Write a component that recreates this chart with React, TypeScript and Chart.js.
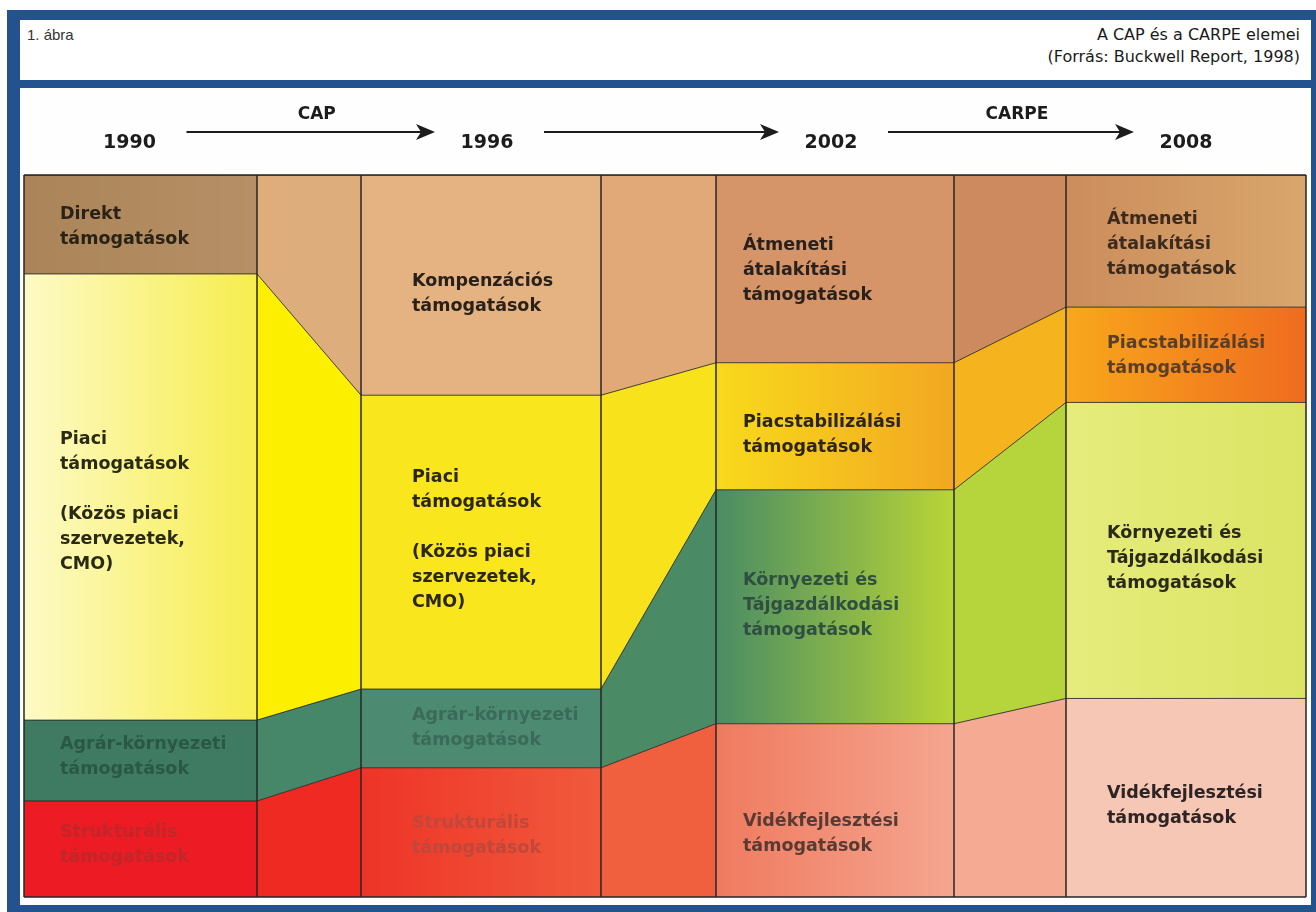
import React, { useEffect, useRef } from 'react';
import { Chart, registerables } from 'chart.js';

Chart.register(...registerables);

// ---------- data ----------
const YEARS = ['1990', '1996', '2002', '2008'];
const ARROW_LABELS = ['CAP', '', 'CARPE'];

// share of each band in every year (% of the column height), top band first
const TOP_BAND = [13.7, 30.5, 26.0, 18.3];
const MARKET_BAND = [61.8, 40.7, 17.6, 13.2];
const ENV_BAND = [11.2, 10.9, 32.4, 41.0];
const RURAL_BAND = [13.3, 17.9, 24.0, 27.5];

const TOP_LABELS = [
  'Direkt\ntámogatások',
  'Kompenzációs\ntámogatások',
  'Átmeneti\nátalakítási\ntámogatások',
  'Átmeneti\nátalakítási\ntámogatások',
];
const MARKET_LABELS = [
  'Piaci\ntámogatások\n\n(Közös piaci\nszervezetek,\nCMO)',
  'Piaci\ntámogatások\n\n(Közös piaci\nszervezetek,\nCMO)',
  'Piacstabilizálási\ntámogatások',
  'Piacstabilizálási\ntámogatások',
];
const ENV_LABELS = [
  'Agrár-környezeti\ntámogatások',
  'Agrár-környezeti\ntámogatások',
  'Környezeti és\nTájgazdálkodási\ntámogatások',
  'Környezeti és\nTájgazdálkodási\ntámogatások',
];
const RURAL_LABELS = [
  'Strukturális\ntámogatások',
  'Strukturális\ntámogatások',
  'Vidékfejlesztési\ntámogatások',
  'Vidékfejlesztési\ntámogatások',
];

// ---------- layout / style ----------
const SEGMENT_WIDTHS = [233, 104, 240, 115, 238, 112, 240]; // column, transition, column, ...
const LABEL_INDENT = [36, 51, 27, 41];
const YEAR_SHIFT = [-11, 6, -4, 0];
const LABEL_Y = {
  top: [94.5, 85.3, 90.3, 93.9],
  market: [63.4, 58.1, 65.7, 76.7],
  env: [21.1, 25.2, 43.9, 50.4],
  rural: [8.9, 10.2, 10.4, 14.4],
};

type Fill = string | [string, string];
const TOP_COLORS: Fill[] = [['#ab8559', '#b68f66'], '#ddae7c', '#e5b381', '#e1a878', '#d59568', '#cd8a5e', ['#cb8d5c', '#d9a66c']];
const MARKET_COLORS: Fill[] = [['#fdfac6', '#f6ed4e'], '#fcf000', '#f9e61c', '#f8e21b', ['#f8da1c', '#f2a722'], '#f5b31e', ['#f8a81c', '#ef6b1f']];
const ENV_COLORS: Fill[] = ['#3e7b62', '#468669', '#4c8a72', '#4a8b66', ['#4a8c64', '#b9d536'], '#b6d53c', ['#e6ec7c', '#dbe463']];
const RURAL_COLORS: Fill[] = ['#ed1c24', '#ee2a22', ['#ee3427', '#f05a3c'], '#f0603e', ['#ef7b5f', '#f5a590'], '#f4aa93', '#f5c7b4'];

const TOP_TEXT = ['#2a2217', '#2a211a', '#2a211c', '#3b2a1e'];
const MARKET_TEXT = ['#2a2a12', '#2b2712', '#2d2618', '#5a3f28'];
const ENV_TEXT = ['#2b5846', '#3b6b58', '#2f5040', '#2a2a18'];
const RURAL_TEXT = ['#c0262a', '#c0483a', '#5a3b33', '#2e2424'];

const LABEL_FONT = 'bold 17.5px "DejaVu Sans", sans-serif';
const LINE_H = 25;

const EDGES: number[] = SEGMENT_WIDTHS.reduce((acc: number[], w) => {
  acc.push(acc[acc.length - 1] + w);
  return acc;
}, [0]);

export default function App() {
  const canvasRef = useRef<HTMLCanvasElement | null>(null);

  useEffect(() => {
    const canvas = canvasRef.current;
    if (!canvas) return;
    const g2d = canvas.getContext('2d') as CanvasRenderingContext2D;

    const pts = (vals: number[]) =>
      vals.flatMap((v, i) => [
        { x: EDGES[2 * i], y: v },
        { x: EDGES[2 * i + 1], y: v },
      ]);

    const b0 = RURAL_BAND.map((v) => v);
    const b1 = b0.map((v, i) => v + ENV_BAND[i]);
    const b2 = b1.map((v, i) => v + MARKET_BAND[i]);
    const b3 = b2.map((v, i) => v + TOP_BAND[i]);

    const segBg = (colors: Fill[]) => (ctx: any) => {
      const spec = colors[ctx.p0DataIndex];
      if (typeof spec === 'string') return spec;
      const gr = g2d.createLinearGradient(ctx.p0.x, 0, ctx.p1.x, 0);
      gr.addColorStop(0, spec[0]);
      gr.addColorStop(1, spec[1]);
      return gr;
    };

    const mk = (label: string, vals: number[], fill: any, colors: Fill[]) => ({
      label,
      data: pts(vals),
      fill,
      backgroundColor: typeof colors[0] === 'string' ? colors[0] : colors[0][0],
      borderColor: 'rgba(35,35,35,0.85)',
      borderWidth: 1,
      pointRadius: 0,
      tension: 0,
      segment: { backgroundColor: segBg(colors) },
    });

    const bandLabels = [
      { texts: TOP_LABELS, ys: LABEL_Y.top, colors: TOP_TEXT },
      { texts: MARKET_LABELS, ys: LABEL_Y.market, colors: MARKET_TEXT },
      { texts: ENV_LABELS, ys: LABEL_Y.env, colors: ENV_TEXT },
      { texts: RURAL_LABELS, ys: LABEL_Y.rural, colors: RURAL_TEXT },
    ];

    const decorations = {
      id: 'decorations',
      afterDatasetsDraw(chart: any) {
        const { ctx, chartArea: a, scales } = chart;
        const xs = scales.x;
        const ys = scales.y;
        ctx.save();
        // frame + column edges
        ctx.strokeStyle = '#262626';
        ctx.lineWidth = 1.5;
        EDGES.forEach((e) => {
          const px = xs.getPixelForValue(e);
          ctx.beginPath();
          ctx.moveTo(px, a.top);
          ctx.lineTo(px, a.bottom);
          ctx.stroke();
        });
        ctx.beginPath();
        ctx.moveTo(a.left, a.top);
        ctx.lineTo(a.right, a.top);
        ctx.moveTo(a.left, a.bottom);
        ctx.lineTo(a.right, a.bottom);
        ctx.stroke();

        // band labels
        ctx.font = LABEL_FONT;
        ctx.textAlign = 'left';
        ctx.textBaseline = 'middle';
        bandLabels.forEach((band) => {
          band.texts.forEach((t, i) => {
            const x0 = xs.getPixelForValue(EDGES[2 * i]) + LABEL_INDENT[i];
            const y0 = ys.getPixelForValue(band.ys[i]);
            ctx.fillStyle = band.colors[i];
            t.split('\n').forEach((line, k) => {
              if (line) ctx.fillText(line, x0, y0 + k * LINE_H);
            });
          });
        });

        // years and arrows
        const centers = YEARS.map(
          (_, i) => (xs.getPixelForValue(EDGES[2 * i]) + xs.getPixelForValue(EDGES[2 * i + 1])) / 2 + YEAR_SHIFT[i]
        );
        ctx.fillStyle = '#1c1c1c';
        ctx.textAlign = 'center';
        ctx.font = 'bold 19px "DejaVu Sans", sans-serif';
        YEARS.forEach((yr, i) => ctx.fillText(yr, centers[i], a.top - 32));

        ctx.strokeStyle = '#1c1c1c';
        ctx.lineWidth = 2;
        ARROW_LABELS.forEach((lab, i) => {
          const x1 = centers[i] + 57;
          const x2 = centers[i + 1] - 52;
          const y = a.top - 43;
          ctx.beginPath();
          ctx.moveTo(x1, y);
          ctx.lineTo(x2 - 12, y);
          ctx.stroke();
          ctx.beginPath();
          ctx.moveTo(x2, y);
          ctx.lineTo(x2 - 19, y - 8);
          ctx.lineTo(x2 - 14, y);
          ctx.lineTo(x2 - 19, y + 8);
          ctx.closePath();
          ctx.fill();
          if (lab) {
            ctx.font = 'bold 17px "DejaVu Sans", sans-serif';
            ctx.fillText(lab, (x1 + x2) / 2 + 6, a.top - 60);
          }
        });
        ctx.restore();
      },
    };

    const chart = new Chart(canvas, {
      type: 'line',
      data: {
        datasets: [
          mk('rural', b0, 'origin', RURAL_COLORS),
          mk('env', b1, '-1', ENV_COLORS),
          mk('market', b2, '-1', MARKET_COLORS),
          mk('top', b3, '-1', TOP_COLORS),
        ] as any,
      },
      options: {
        animation: false,
        responsive: false,
        devicePixelRatio: 1,
        layout: { padding: { left: 24, right: 10, top: 175, bottom: 15 } },
        scales: {
          x: { type: 'linear', min: 0, max: EDGES[EDGES.length - 1], display: false },
          y: { type: 'linear', min: 0, max: 100, display: false },
        },
        plugins: {
          legend: { display: false },
          tooltip: { enabled: false },
        },
      } as any,
      plugins: [decorations],
    });

    return () => chart.destroy();
  }, []);

  return (
    <div style={{ position: 'absolute', left: 0, top: 0, width: 1316, height: 912, background: '#ffffff', overflow: 'hidden' }}>
      <div style={{ position: 'absolute', left: 7, top: 10, width: 1309, height: 902, background: '#24528f' }} />
      <div style={{ position: 'absolute', left: 20, top: 20, width: 1291, height: 60, background: '#ffffff' }}>
        <div style={{ position: 'absolute', left: 7, top: 6, font: '15px "Liberation Sans", sans-serif', lineHeight: '18px', color: '#333' }}>
          1. ábra
        </div>
        <div
          style={{
            position: 'absolute',
            right: 11,
            top: 4,
            textAlign: 'right',
            font: '16px "DejaVu Sans", sans-serif',
            lineHeight: '22px',
            color: '#1a1a1a',
          }}
        >
          A CAP és a CARPE elemei
          <br />
          (Forrás: Buckwell Report, 1998)
        </div>
      </div>
      <div style={{ position: 'absolute', left: 20, top: 88, width: 1291, height: 817, background: '#fefefe' }} />
      <canvas ref={canvasRef} width={1316} height={912} style={{ position: 'absolute', left: 0, top: 0, width: 1316, height: 912 }} />
    </div>
  );
}
